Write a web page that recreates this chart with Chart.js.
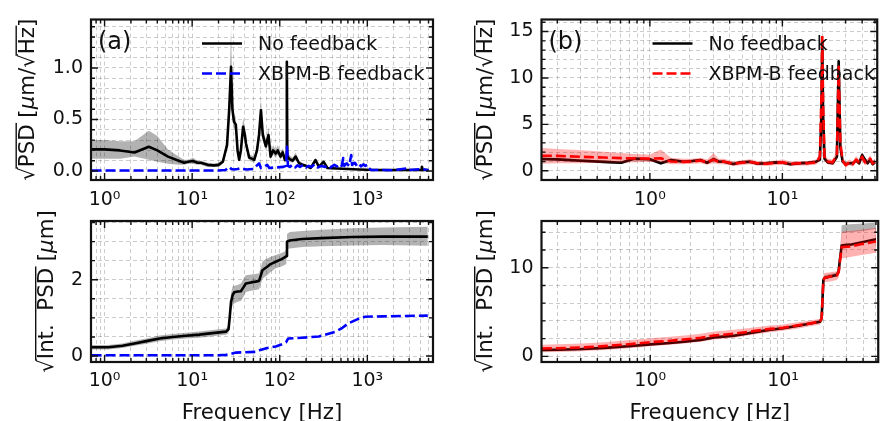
<!DOCTYPE html>
<html>
<head>
<meta charset="utf-8">
<script src="https://cdn.jsdelivr.net/npm/chart.js@4.4.1/dist/chart.umd.min.js"></script>
<style>
  html, body { margin: 0; padding: 0; background: #fff; }
  #wrap { position: relative; width: 884px; height: 421px; overflow: hidden; }
  #wrap canvas { position: absolute; left: 0; top: 0; }
</style>
</head>
<body>
<div id="wrap">
  <canvas id="cA1" width="884" height="421"></canvas>
  <canvas id="cA2" width="884" height="421"></canvas>
  <canvas id="cB1" width="884" height="421"></canvas>
  <canvas id="cB2" width="884" height="421"></canvas>
</div>
<script>
// ---- ticks ----
var xTicksA = [0.8, 0.9, 1, 2, 3, 4, 5, 6, 7, 8, 9, 10, 20, 30, 40, 50, 60, 70, 80, 90,
    100, 200, 300, 400, 500, 600, 700, 800, 900, 1000, 2000, 3000, 4000, 5000];
var xTicksB = [0.2, 0.3, 0.4, 0.5, 0.6, 0.7, 0.8, 0.9, 1, 2, 3, 4, 5, 6, 7, 8, 9, 10, 20, 30, 40, 50];
var xMajor = [1, 10, 100, 1000];
var xMajorLabels = ["10⁰", "10¹", "10²", "10³"];

var yTicksA = [0, 0.1, 0.2, 0.3, 0.4, 0.5, 0.6, 0.7, 0.8, 0.9, 1.0, 1.1, 1.2, 1.3, 1.4];
var yMajorA = [0, 0.5, 1.0];
var yLabelsA = ["0.0", "0.5", "1.0"];
var yTicksAi = [0, 0.5, 1, 1.5, 2, 2.5, 3, 3.5];
var yMajorAi = [0, 2];
var yLabelsAi = ["0", "2"];
var yTicksB = [0, 1, 2, 3, 4, 5, 6, 7, 8, 9, 10, 11, 12, 13, 14, 15, 16];
var yMajorB = [0, 5, 10, 15];
var yLabelsB = ["0", "5", "10", "15"];
var yTicksBi = [0, 2, 4, 6, 8, 10, 12, 14];
var yMajorBi = [0, 10];
var yLabelsBi = ["0", "10"];

// ---- (a) PSD ----
var fA = [0.71, 1.0, 1.5, 2.2, 3.2, 4.0, 5.3, 7.0, 8.1, 9.0, 10.2, 11.5, 12.6, 15, 17.8, 20, 22.4, 25, 26.5, 27.8,
    28.8, 30, 31.5, 33, 34.4, 36, 38.2, 40, 41.1, 44.8, 48, 51.2, 55, 58, 61, 64, 69.5, 72, 74.4, 78.6,
    84, 89.8, 95, 102, 108, 114.7, 119, 120.5, 122, 127, 140, 152, 165, 181, 200, 226, 256, 280, 316, 350,
    450, 600, 800, 1000, 1500, 2500, 4100, 4200, 4300, 5000];
var psdA = [0.21, 0.21, 0.20, 0.18, 0.235, 0.20, 0.14, 0.10, 0.08, 0.09, 0.097, 0.08, 0.08, 0.06, 0.055, 0.06, 0.09, 0.25, 0.6, 1.01,
    0.6, 0.48, 0.45, 0.2, 0.11, 0.2, 0.43, 0.35, 0.27, 0.13, 0.12, 0.11, 0.2, 0.35, 0.59, 0.35, 0.24, 0.3, 0.35, 0.14,
    0.2, 0.17, 0.2, 0.14, 0.18, 0.107, 0.12, 1.06, 0.15, 0.12, 0.1, 0.14, 0.08, 0.06, 0.05, 0.03, 0.107, 0.04, 0.09, 0.03,
    0.025, 0.02, 0.015, 0.012, 0.01, 0.01, 0.01, 0.04, 0.01, 0.01];
var psdALo = [0.12, 0.12, 0.12, 0.14, 0.11, 0.09, 0.07, 0.06, 0.06, 0.07, 0.07, 0.06, 0.06, 0.04, 0.04, 0.04, 0.07, 0.2, 0.5, 0.9,
    0.52, 0.42, 0.38, 0.16, 0.09, 0.16, 0.37, 0.3, 0.22, 0.1, 0.09, 0.08, 0.16, 0.3, 0.52, 0.3, 0.2, 0.25, 0.3, 0.11,
    0.16, 0.13, 0.16, 0.11, 0.14, 0.08, 0.09, 1.0, 0.12, 0.09, 0.08, 0.11, 0.06, 0.04, 0.04, 0.02, 0.09, 0.03, 0.075, 0.02,
    0.018, 0.014, 0.01, 0.008, 0.006, 0.006, 0.006, 0.03, 0.006, 0.006];
var psdAHi = [0.30, 0.30, 0.29, 0.29, 0.39, 0.34, 0.21, 0.14, 0.11, 0.11, 0.13, 0.10, 0.10, 0.08, 0.07, 0.08, 0.11, 0.32, 0.75, 1.39,
    0.70, 0.56, 0.52, 0.25, 0.14, 0.25, 0.52, 0.42, 0.32, 0.16, 0.15, 0.14, 0.25, 0.42, 0.70, 0.42, 0.30, 0.36, 0.43, 0.18,
    0.25, 0.21, 0.25, 0.18, 0.22, 0.14, 0.15, 1.12, 0.20, 0.16, 0.13, 0.18, 0.10, 0.08, 0.06, 0.04, 0.125, 0.05, 0.105, 0.04,
    0.032, 0.026, 0.02, 0.016, 0.014, 0.014, 0.014, 0.05, 0.014, 0.014];
var fAfb = [0.71, 20, 24, 26.5, 28, 30, 33, 36, 38, 42, 50, 58, 61, 66, 72, 76, 90, 110, 118, 121, 124,
    130, 140, 150, 160, 170, 185, 200, 215, 230, 250, 270, 300, 330, 350, 380, 420, 450, 480, 510, 530,
    545, 580, 620, 655, 670, 720, 760, 800, 850, 900, 950, 1000, 1040, 1100, 1500, 2000, 2800, 2900, 4200, 5000];
var psdAfb = [0.005, 0.005, 0.01, 0.04, 0.02, 0.015, 0.02, 0.03, 0.02, 0.015, 0.02, 0.075, 0.03, 0.04, 0.06, 0.03, 0.035, 0.04, 0.05, 0.235, 0.05,
    0.04, 0.06, 0.035, 0.055, 0.04, 0.06, 0.035, 0.05, 0.04, 0.065, 0.035, 0.05, 0.04, 0.055, 0.035, 0.06, 0.045, 0.07, 0.05, 0.125,
    0.05, 0.075, 0.05, 0.155, 0.06, 0.08, 0.05, 0.07, 0.045, 0.065, 0.05, 0.06, 0.03, 0.01, 0.01, 0.008, 0.025, 0.008, 0.02, 0.008];

// ---- (a) integrated PSD ----
var fAi = [0.71, 1.1, 1.6, 2.2, 3.0, 4.25, 6, 8.5, 12, 17, 24.4, 26, 26.8, 27.8, 29, 30.2, 33, 36, 38.5, 41,
    47, 53, 58, 61, 63.5, 68, 72, 78.6, 90, 105, 115, 119, 121, 130, 180, 300, 670, 1500, 4900];
var intA = [0.23, 0.23, 0.27, 0.33, 0.39, 0.46, 0.50, 0.53, 0.56, 0.60, 0.64, 0.70, 1.0, 1.42, 1.6, 1.67, 1.69, 1.70, 1.80, 1.90,
    1.93, 1.95, 1.97, 2.12, 2.25, 2.30, 2.34, 2.41, 2.47, 2.54, 2.59, 2.62, 3.00, 3.03, 3.07, 3.09, 3.12, 3.13, 3.13];
var intALo = [0.17, 0.17, 0.21, 0.27, 0.32, 0.39, 0.43, 0.46, 0.48, 0.52, 0.56, 0.6, 0.85, 1.2, 1.33, 1.38, 1.42, 1.44, 1.55, 1.68,
    1.71, 1.73, 1.75, 1.9, 2.02, 2.08, 2.12, 2.2, 2.3, 2.35, 2.39, 2.42, 2.80, 2.82, 2.86, 2.88, 2.90, 2.91, 2.89];
var intAHi = [0.29, 0.29, 0.33, 0.40, 0.46, 0.54, 0.58, 0.61, 0.64, 0.68, 0.72, 0.8, 1.15, 1.65, 1.82, 1.84, 1.86, 1.9, 2.02, 2.12,
    2.14, 2.15, 2.17, 2.34, 2.47, 2.53, 2.56, 2.6, 2.65, 2.7, 2.75, 2.8, 3.2, 3.25, 3.28, 3.31, 3.35, 3.37, 3.39];
var fAfbi = [0.71, 20, 24.4, 28, 31.6, 40, 53, 60, 69, 90, 107, 118, 125, 180, 280, 435, 520, 610, 800, 945, 1500, 4900];
var intAfb = [0.02, 0.02, 0.03, 0.06, 0.09, 0.10, 0.11, 0.16, 0.20, 0.25, 0.31, 0.36, 0.46, 0.48, 0.51, 0.64, 0.74, 0.86, 0.98, 1.03, 1.04, 1.06];

// ---- (b) PSD ----
var fB = [0.153, 0.2, 0.305, 0.45, 0.607, 0.76, 1.0, 1.21, 1.44, 1.8, 2.1, 2.41, 2.7, 3.02, 3.3, 3.6, 4.27, 4.8, 5.7, 6.5,
    7.6, 8.8, 10.1, 11.5, 13.5, 15.5, 18, 19.2, 19.7, 20.0, 20.3, 20.8, 22, 24, 25.8, 26.6, 27.4, 28.5, 30, 32,
    34, 36, 38, 40, 42, 44, 46, 48, 50];
var psdB = [1.26, 1.22, 1.08, 0.95, 0.86, 1.30, 1.23, 0.80, 1.15, 0.97, 1.05, 1.15, 0.86, 1.23, 1.0, 0.97, 0.72, 0.9, 0.97, 0.75,
    0.8, 0.9, 0.86, 0.7, 0.8, 0.85, 0.97, 1.2, 6.0, 14.0, 6.0, 1.3, 0.9, 0.8, 1.5, 11.8, 2.5, 1.0, 0.7, 0.8,
    0.8, 1.1, 0.8, 1.7, 1.2, 0.8, 1.2, 0.7, 0.9];
var psdBLo = [1.1, 1.07, 0.93, 0.8, 0.7, 1.15, 1.08, 0.65, 1.0, 0.82, 0.9, 1.0, 0.7, 1.05, 0.85, 0.82, 0.57, 0.75, 0.82, 0.6,
    0.65, 0.75, 0.71, 0.55, 0.65, 0.7, 0.82, 1.0, 5.5, 13.5, 5.5, 1.1, 0.75, 0.65, 1.3, 11.3, 2.2, 0.85, 0.55, 0.65,
    0.65, 0.9, 0.65, 1.45, 1.0, 0.65, 1.0, 0.55, 0.75];
var psdBHi = [1.42, 1.38, 1.23, 1.1, 1.02, 1.45, 1.38, 0.95, 1.3, 1.12, 1.2, 1.3, 1.02, 1.5, 1.15, 1.12, 0.87, 1.05, 1.12, 0.9,
    0.95, 1.05, 1.01, 0.85, 0.95, 1.0, 1.12, 1.4, 6.5, 14.5, 6.5, 1.5, 1.05, 0.95, 1.7, 12.3, 2.8, 1.15, 0.85, 0.95,
    0.95, 1.3, 0.95, 1.95, 1.4, 0.95, 1.4, 0.85, 1.05];
var psdBfb = [1.62, 1.6, 1.5, 1.42, 1.36, 1.33, 1.3, 1.34, 1.0, 0.95, 1.0, 1.1, 0.9, 1.2, 0.95, 1.0, 0.75, 0.85, 0.95, 0.8,
    0.75, 0.85, 0.9, 0.75, 0.8, 0.8, 0.9, 1.5, 8.0, 14.6, 7.0, 1.4, 1.0, 0.9, 1.8, 11.2, 3.0, 1.1, 0.6, 0.9,
    0.7, 1.2, 0.9, 1.5, 0.9, 1.0, 1.3, 0.8, 1.0];
var psdBfbLo = [0.75, 0.8, 0.8, 0.85, 0.85, 0.9, 0.95, 0.9, 0.7, 0.7, 0.75, 0.8, 0.65, 0.8, 0.7, 0.7, 0.5, 0.6, 0.7, 0.55,
    0.5, 0.6, 0.65, 0.5, 0.55, 0.55, 0.65, 1.1, 6.5, 13.6, 5.8, 1.0, 0.7, 0.6, 1.3, 10.3, 2.3, 0.8, 0.35, 0.6,
    0.45, 0.85, 0.6, 1.1, 0.6, 0.7, 0.9, 0.5, 0.7];
var psdBfbHi = [2.45, 2.35, 2.2, 2.05, 1.9, 1.8, 1.75, 2.3, 1.4, 1.3, 1.3, 1.4, 1.2, 1.9, 1.3, 1.3, 1.0, 1.1, 1.25, 1.05,
    1.0, 1.1, 1.2, 1.0, 1.05, 1.05, 1.2, 1.9, 9.5, 15.4, 8.2, 1.8, 1.3, 1.2, 2.3, 12.0, 3.7, 1.4, 0.9, 1.2,
    1.0, 1.6, 1.2, 1.9, 1.2, 1.3, 1.7, 1.1, 1.3];

// ---- (b) integrated PSD ----
var fBi = [0.153, 0.2, 0.305, 0.45, 0.607, 0.8, 1.0, 1.4, 1.8, 2.4, 3.02, 4.27, 6, 8, 10, 13, 16, 19, 19.5, 19.8,
    20.1, 20.5, 22.6, 25.4, 26.2, 26.8, 27.6, 29, 32, 40, 50];
var intB = [0.71, 0.74, 0.82, 0.95, 1.08, 1.22, 1.35, 1.5, 1.65, 1.85, 2.14, 2.33, 2.7, 3.0, 3.16, 3.45, 3.7, 3.9, 4.3, 6.5,
    8.6, 8.85, 9.0, 9.18, 9.6, 11.0, 12.5, 12.55, 12.6, 12.9, 13.2];
var intBLo = [0.58, 0.61, 0.69, 0.82, 0.95, 1.09, 1.22, 1.37, 1.52, 1.72, 2.0, 2.2, 2.57, 2.87, 3.03, 3.32, 3.57, 3.77, 4.17, 6.3,
    8.45, 8.7, 8.85, 9.0, 9.4, 10.8, 13.9, 13.95, 14.0, 14.15, 14.4];
var intBHi = [0.84, 0.87, 0.95, 1.08, 1.21, 1.35, 1.48, 1.63, 1.78, 1.98, 2.27, 2.46, 2.83, 3.13, 3.29, 3.58, 3.83, 4.03, 4.43, 6.7,
    8.9, 9.15, 9.3, 9.45, 9.9, 11.6, 14.8, 14.85, 14.9, 15.0, 15.1];
var intBfb = [0.88, 0.92, 1.0, 1.15, 1.3, 1.45, 1.6, 1.75, 1.9, 2.1, 2.35, 2.55, 2.85, 3.1, 3.23, 3.5, 3.72, 3.92, 4.3, 6.5,
    8.6, 8.85, 9.0, 9.15, 9.5, 10.8, 12.3, 12.35, 12.4, 12.7, 12.95];
var intBfbLo = [0.45, 0.48, 0.56, 0.7, 0.85, 1.0, 1.15, 1.3, 1.45, 1.65, 1.9, 2.1, 2.45, 2.72, 2.88, 3.15, 3.4, 3.6, 4.0, 6.0,
    8.1, 8.35, 8.45, 8.6, 8.9, 10.0, 11.05, 11.1, 11.2, 11.45, 11.7];
var intBfbHi = [1.3, 1.35, 1.45, 1.6, 1.75, 1.9, 2.05, 2.2, 2.35, 2.55, 2.8, 3.0, 3.25, 3.48, 3.58, 3.85, 4.05, 4.25, 4.6, 7.0,
    9.2, 9.4, 9.5, 9.6, 10.1, 11.6, 14.05, 14.1, 14.15, 14.3, 14.5];

var seriesNames = ["No feedback", "XBPM-B feedback"];

// ---- helpers ----
var FONT = "DejaVu Sans";
var GRAY = "rgba(0,0,0,0.3)";
var PINK = "rgba(255,0,0,0.3)";
var DASH = [10, 4];

function pts(xs, ys) {
    return xs.map(function (x, i) { return { x: x, y: ys[i] }; });
}
function lineDs(xs, ys, color, dash, order) {
    return {
        data: pts(xs, ys), borderColor: color, borderWidth: 2.6, borderDash: dash || [],
        borderJoinStyle: "round", pointRadius: 0, fill: false, order: order, tension: 0
    };
}
function bandDs(xs, lo, hi, color, order) {
    return [
        { data: pts(xs, lo), borderColor: "transparent", borderWidth: 0, pointRadius: 0, fill: false, order: order + 1 },
        { data: pts(xs, hi), borderColor: "transparent", borderWidth: 0, pointRadius: 0, fill: "-1", backgroundColor: color, order: order }
    ];
}
function isDecade(v) {
    var l = Math.log10(v);
    return Math.abs(l - Math.round(l)) < 1e-9;
}

function drawRootTitle(ctx, bx, cy, parts, size) {
    ctx.save();
    ctx.translate(bx, cy);
    ctx.rotate(-Math.PI / 2);
    ctx.fillStyle = "#111";
    ctx.textBaseline = "alphabetic";
    ctx.textAlign = "left";
    var total = 0;
    parts.forEach(function (p) {
        ctx.font = (p.it ? "italic " : "") + size + "px " + FONT;
        p.w = ctx.measureText(p.t).width;
        if (p.root) {
            ctx.font = size + "px " + FONT;
            var m = ctx.measureText("√");
            p.rw = m.width;
            p.top = m.actualBoundingBoxAscent;
        }
        total += p.w + (p.root ? p.rw : 0);
    });
    var x = -total / 2;
    parts.forEach(function (p) {
        if (p.root) {
            ctx.font = size + "px " + FONT;
            ctx.fillText("√", x, 0);
            x += p.rw;
            ctx.fillRect(x - 1.5, -p.top, p.w + 3, 1.4);
        }
        ctx.font = (p.it ? "italic " : "") + size + "px " + FONT;
        ctx.fillText(p.t, x, 0);
        x += p.w;
    });
    ctx.restore();
}

var framePlugin = {
    id: "frame",
    afterDatasetsDraw: function (chart, args, o) {
        var ctx = chart.ctx, a = chart.chartArea;
        var xs = chart.scales.x, ys = chart.scales.y;
        ctx.save();
        ctx.strokeStyle = "#111";
        ctx.lineWidth = 1.4;
        ctx.beginPath();
        xs.ticks.forEach(function (t) {
            var p = xs.getPixelForValue(t.value);
            var L = isDecade(t.value) ? 7 : 4;
            ctx.moveTo(p, a.bottom); ctx.lineTo(p, a.bottom - L);
            ctx.moveTo(p, a.top); ctx.lineTo(p, a.top + L);
        });
        ys.ticks.forEach(function (t) {
            var p = ys.getPixelForValue(t.value);
            var L = o.yMajor.indexOf(t.value) >= 0 ? 7 : 4;
            ctx.moveTo(a.left, p); ctx.lineTo(a.left + L, p);
            ctx.moveTo(a.right, p); ctx.lineTo(a.right - L, p);
        });
        ctx.stroke();
        ctx.lineWidth = 2.2;
        ctx.strokeRect(a.left, a.top, a.right - a.left, a.bottom - a.top);

        // panel tag
        ctx.fillStyle = "#111";
        if (o.tag) {
            ctx.font = "24px " + FONT;
            ctx.textBaseline = "middle";
            ctx.textAlign = "left";
            ctx.fillText(o.tag, a.left + 7, a.top + 23);
        }
        // legend
        if (o.legend) {
            ctx.font = "19px " + FONT;
            ctx.textBaseline = "middle";
            o.legend.forEach(function (e, i) {
                var y = a.top + 24 + i * 30;
                ctx.save();
                ctx.strokeStyle = e.color;
                ctx.lineWidth = 2.6;
                ctx.setLineDash(e.dash || []);
                ctx.beginPath();
                ctx.moveTo(a.left + 111, y);
                ctx.lineTo(a.left + 151, y);
                ctx.stroke();
                ctx.restore();
                ctx.fillText(e.label, a.left + 167, y + 1.5);
            });
        }
        // axis titles
        drawRootTitle(ctx, a.left + o.titleDx, (a.top + a.bottom) / 2, o.title, 21.3);
        if (o.xTitle) {
            ctx.font = "21.3px " + FONT;
            ctx.textAlign = "center";
            ctx.textBaseline = "alphabetic";
            ctx.fillText(o.xTitle, (a.left + a.right) / 2, a.bottom + 57);
        }
        ctx.restore();
    }
};

function makePanel(id, o) {
    var tickFont = { family: FONT, size: 19 };
    new Chart(document.getElementById(id), {
        type: "line",
        data: { datasets: o.datasets },
        options: {
            responsive: false,
            animation: false,
            devicePixelRatio: 1,
            layout: {
                padding: {
                    left: o.area.left - 60,
                    right: 884 - o.area.right,
                    top: o.area.top,
                    bottom: 421 - o.area.bottom - 40
                }
            },
            plugins: {
                legend: { display: false },
                tooltip: { enabled: false },
                frame: o.frame
            },
            scales: {
                x: {
                    type: "logarithmic",
                    position: "bottom",
                    min: o.xMin,
                    max: o.xMax,
                    afterFit: function (s) { s.height = 40; },
                    afterBuildTicks: function (s) {
                        s.ticks = o.xTicks.map(function (v) { return { value: v }; });
                    },
                    ticks: {
                        autoSkip: false, maxRotation: 0, minRotation: 0, padding: o.xPad,
                        color: "#111", font: tickFont,
                        callback: function (v) {
                            var i = xMajor.indexOf(v);
                            return i >= 0 ? xMajorLabels[i] : "";
                        }
                    },
                    grid: { color: "rgba(0,0,0,0.2)", lineWidth: 1, drawTicks: false },
                    border: { display: false, dash: [4, 3] }
                },
                y: {
                    type: "linear",
                    min: o.yMin,
                    max: o.yMax,
                    afterFit: function (s) { s.width = 60; },
                    afterBuildTicks: function (s) {
                        s.ticks = o.yTicks.map(function (v) { return { value: v }; });
                    },
                    ticks: {
                        autoSkip: false, padding: 8, color: "#111", font: tickFont,
                        callback: function (v) {
                            var i = o.frame.yMajor.indexOf(v);
                            return i >= 0 ? o.yLabels[i] : "";
                        }
                    },
                    grid: { color: "rgba(0,0,0,0.2)", lineWidth: 1, drawTicks: false },
                    border: { display: false, dash: [4, 3] }
                }
            }
        },
        plugins: [framePlugin]
    });
}

var psdTitle = [{ t: "PSD", root: true }, { t: " [" }, { t: "μ", it: true }, { t: "m/" }, { t: "Hz", root: true }, { t: "]" }];
var intTitle = [{ t: "Int.  PSD", root: true }, { t: " [" }, { t: "μ", it: true }, { t: "m]" }];

// (a) top
makePanel("cA1", {
    area: { left: 91, right: 433, top: 19.5, bottom: 180 },
    xMin: 0.73, xMax: 5620, xTicks: xTicksA, xPad: 9,
    yMin: -0.087, yMax: 1.47, yTicks: yTicksA, yLabels: yLabelsA,
    datasets: [
        lineDs(fAfb, psdAfb, "#0000ff", DASH, 1),
        lineDs(fA, psdA, "#000", [], 2)
    ].concat(bandDs(fA, psdALo, psdAHi, GRAY, 3)),
    frame: {
        yMajor: yMajorA, tag: "(a)", titleDx: -57.5, title: psdTitle,
        legend: [{ label: seriesNames[0], color: "#000" }, { label: seriesNames[1], color: "#0000ff", dash: DASH }]
    }
});
// (a) bottom
makePanel("cA2", {
    area: { left: 91, right: 433, top: 221, bottom: 362 },
    xMin: 0.73, xMax: 5620, xTicks: xTicksA, xPad: 8,
    yMin: -0.157, yMax: 3.54, yTicks: yTicksAi, yLabels: yLabelsAi,
    datasets: [
        lineDs(fAfbi, intAfb, "#0000ff", DASH, 1),
        lineDs(fAi, intA, "#000", [], 2)
    ].concat(bandDs(fAi, intALo, intAHi, GRAY, 3)),
    frame: { yMajor: yMajorAi, titleDx: -38, title: intTitle, xTitle: "Frequency [Hz]" }
});
// (b) top
makePanel("cB1", {
    area: { left: 541.5, right: 880, top: 19.5, bottom: 180 },
    xMin: 0.152, xMax: 52, xTicks: xTicksB, xPad: 9,
    yMin: -1.0, yMax: 16.3, yTicks: yTicksB, yLabels: yLabelsB,
    datasets: [
        lineDs(fB, psdBfb, "red", DASH, 1)
    ].concat(bandDs(fB, psdBfbLo, psdBfbHi, PINK, 2))
        .concat([lineDs(fB, psdB, "#000", [], 5)])
        .concat(bandDs(fB, psdBLo, psdBHi, GRAY, 6)),
    frame: {
        yMajor: yMajorB, tag: "(b)", titleDx: -49.5, title: psdTitle,
        legend: [{ label: seriesNames[0], color: "#000" }, { label: seriesNames[1], color: "red", dash: DASH }]
    }
});
// (b) bottom
makePanel("cB2", {
    area: { left: 541.5, right: 880, top: 221, bottom: 362 },
    xMin: 0.152, xMax: 52, xTicks: xTicksB, xPad: 8,
    yMin: -0.64, yMax: 15.27, yTicks: yTicksBi, yLabels: yLabelsBi,
    datasets: [
        lineDs(fBi, intBfb, "red", DASH, 1)
    ].concat(bandDs(fBi, intBfbLo, intBfbHi, PINK, 2))
        .concat([lineDs(fBi, intB, "#000", [], 5)])
        .concat(bandDs(fBi, intBLo, intBHi, GRAY, 6)),
    frame: { yMajor: yMajorBi, titleDx: -49.5, title: intTitle, xTitle: "Frequency [Hz]" }
});
</script>
</body>
</html>
